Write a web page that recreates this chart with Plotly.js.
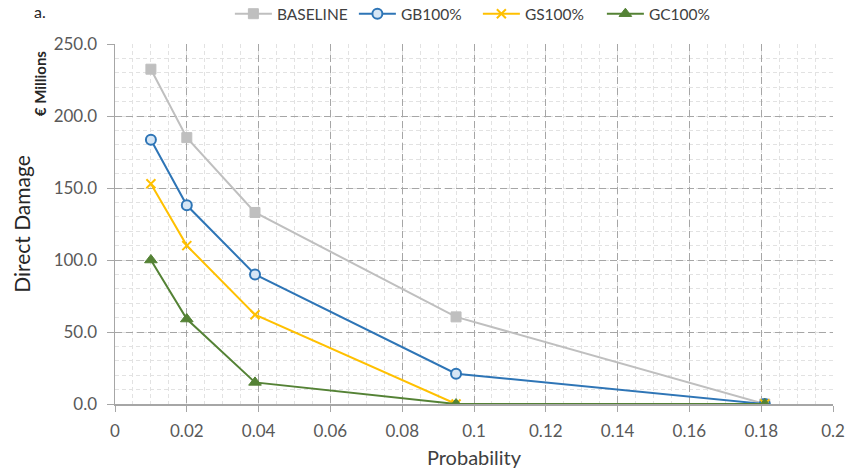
<!DOCTYPE html>
<html>
<head>
<meta charset="utf-8">
<script src="https://cdn.plot.ly/plotly-3.0.1.min.js"></script>
<style>html,body{margin:0;padding:0;background:#fff;}#chart{width:849px;height:472px;}</style>
</head>
<body>
<div id="chart"></div>
<script>
const probability = [0.01, 0.02, 0.039, 0.095, 0.181];
const baseline = [232.5, 185, 133, 60.5, 0];
const gb100 = [183.5, 138, 90, 21, 0];
const gs100 = [153, 110, 62, 0, 0];
const gc100 = [100, 59, 15, 0, 0];
const seriesNames = ['BASELINE', 'GB100%', 'GS100%', 'GC100%'];
const xTickVals = [0, 0.02, 0.04, 0.06, 0.08, 0.1, 0.12, 0.14, 0.16, 0.18, 0.2];
const xTickText = ['0', '0.02', '0.04', '0.06', '0.08', '0.1', '0.12', '0.14', '0.16', '0.18', '0.2'];
const yTickVals = [0, 50, 100, 150, 200, 250];
const yTickText = ['0.0', '50.0', '100.0', '150.0', '200.0', '250.0'];

const FONT = 'Lato, "Open Sans", sans-serif';

const traces = [
  {x: probability, y: baseline, name: seriesNames[0], mode: 'lines+markers',
   line: {color: '#bfbfbf', width: 2},
   marker: {symbol: 'square', size: 10, color: '#bfbfbf', line: {color: '#bfbfbf', width: 1}}},
  {x: probability, y: gb100, name: seriesNames[1], mode: 'lines+markers',
   line: {color: '#2e75b6', width: 2},
   marker: {symbol: 'circle', size: 10, color: '#d6e6f5', line: {color: '#2e75b6', width: 2}}},
  {x: probability, y: gs100, name: seriesNames[2], mode: 'lines+markers',
   line: {color: '#ffc000', width: 2},
   marker: {symbol: 'x-thin', size: 9, color: '#ffc000', line: {color: '#ffc000', width: 2}}},
  {x: probability, y: gc100, name: seriesNames[3], mode: 'lines+markers',
   line: {color: '#548235', width: 2},
   marker: {symbol: 'triangle-up', size: 11, color: '#548235', line: {color: '#548235', width: 1}}}
];

const layout = {
  width: 849, height: 472,
  margin: {l: 115, r: 16, t: 44, b: 68, autoexpand: false},
  paper_bgcolor: '#ffffff', plot_bgcolor: '#ffffff',
  font: {family: FONT, color: '#595959', size: 15},
  showlegend: true,
  legend: {orientation: 'h', x: 0.16, xanchor: 'left', y: 1.083, yanchor: 'middle',
           font: {family: FONT, size: 15.5, color: '#404040'}, itemwidth: 37,
           entrywidth: 72, tracegroupgap: 0},
  xaxis: {
    range: [0, 0.2], tickvals: xTickVals, ticktext: xTickText,
    showgrid: true, gridcolor: '#a6a6a6', griddash: '7px,4px', gridwidth: 1,
    minor: {dtick: 0.005, showgrid: true, gridcolor: '#e2e2e2', griddash: '4px,3px', gridwidth: 1},
    zeroline: false, showline: true, linecolor: '#a6a6a6', linewidth: 1.5,
    ticks: 'outside', ticklen: 6, tickcolor: '#a6a6a6', ticklabelstandoff: 5,
    tickfont: {family: FONT, size: 17, color: '#595959'},
    title: {text: 'Probability', font: {family: FONT, size: 20, color: '#404040'}, standoff: 11}
  },
  yaxis: {
    range: [0, 250], tickvals: yTickVals, ticktext: yTickText,
    showgrid: true, gridcolor: '#a6a6a6', griddash: '7px,4px', gridwidth: 1,
    minor: {dtick: 10, showgrid: true, gridcolor: '#e2e2e2', griddash: '4px,3px', gridwidth: 1},
    zeroline: false, showline: true, linecolor: '#a6a6a6', linewidth: 1.5,
    ticks: 'outside', ticklen: 7, tickcolor: '#a6a6a6', ticklabelstandoff: 6,
    tickfont: {family: FONT, size: 17, color: '#595959'},
    title: {text: 'Direct Damage', font: {family: FONT, size: 21, color: '#262626'}, standoff: 17}
  },
  annotations: [
    {text: 'a.', xref: 'paper', yref: 'paper', x: -0.104, y: 1.089, xanchor: 'center', yanchor: 'middle',
     showarrow: false, font: {family: FONT, size: 16, color: '#262626'}},
    {text: '<b>€ Millions</b>', xref: 'paper', yref: 'paper', x: -0.104, y: 0.892, xanchor: 'center', yanchor: 'middle',
     textangle: -90, showarrow: false, font: {family: FONT, size: 15, color: '#262626'}}
  ]
};

Plotly.newPlot('chart', traces, layout, {displayModeBar: false, staticPlot: true});
</script>
</body>
</html>
